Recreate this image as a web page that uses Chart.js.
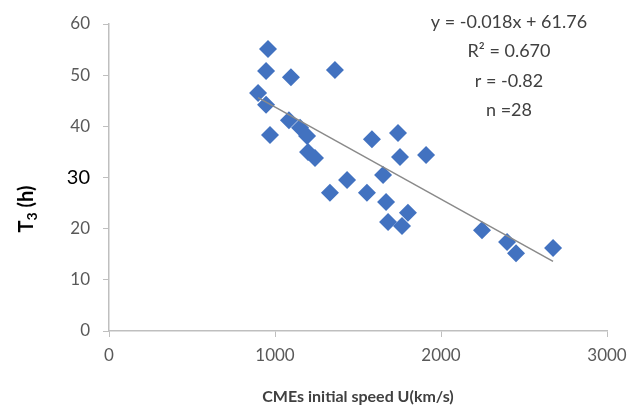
<!DOCTYPE html>
<html>
<head>
<meta charset="utf-8">
<title>CME speed vs T3</title>
<script src="https://cdn.jsdelivr.net/npm/chart.js@4.4.1/dist/chart.umd.min.js"></script>
<style>
  html, body { margin: 0; padding: 0; background: #ffffff; }
  #c { display: block; }
</style>
</head>
<body>
<canvas id="c" width="644" height="415"></canvas>
<script>
// CME initial speed (km/s) and travel time T3 (h) for each event
const speeds = [958, 946, 1096, 1361, 898, 946, 1084, 1151, 970, 1193,
                1199, 1241, 1331, 1434, 1584, 1741, 1753, 1910, 1651, 1554,
                1669, 1801, 1681, 1765, 2247, 2398, 2452, 2675];
const times  = [55.1, 50.8, 49.6, 51.0, 46.5, 44.2, 41.2, 39.7, 38.3, 38.1,
                35.0, 33.8, 27.0, 29.5, 37.5, 38.7, 34.0, 34.4, 30.5, 27.0,
                25.2, 23.1, 21.3, 20.5, 19.7, 17.4, 15.2, 16.2];

// Linear fit reported with the data
const fitSlope = -0.018;
const fitIntercept = 61.76;
const statsLines = ['y = -0.018x + 61.76', 'R\u00B2 = 0.670', 'r = -0.82', 'n =28'];

const xTicks = [0, 1000, 2000, 3000];
const yTicks = [0, 10, 20, 30, 40, 50, 60];
const xTitle = 'CMEs initial speed U(km/s)';
const yTitleMain = 'T';
const yTitleSub = '3';
const yTitleRest = ' (h)';

const points = speeds.map((s, i) => ({ x: s, y: times[i] }));
const xMinData = Math.min(...speeds);
const xMaxData = Math.max(...speeds);
const fitLine = [xMinData, xMaxData].map(x => ({ x: x, y: fitSlope * x + fitIntercept }));

const FONT = 'Lato, "Open Sans", "Liberation Sans", sans-serif';
const AXIS_GREY = '#bfbfbf';

// Regression statistics block and the rotated y-axis title
const textPlugin = {
  id: 'textBlocks',
  afterDraw(chart) {
    const ctx = chart.ctx;
    ctx.save();
    ctx.fillStyle = '#404040';
    ctx.font = '18px ' + FONT;
    ctx.textAlign = 'center';
    ctx.textBaseline = 'middle';
    statsLines.forEach((t, i) => ctx.fillText(t, 509, 22 + i * 29.5));

    // y-axis title: T with subscript 3, followed by (h)
    ctx.translate(27, 209);
    ctx.rotate(-Math.PI / 2);
    ctx.fillStyle = '#000000';
    ctx.textAlign = 'left';
    ctx.textBaseline = 'middle';
    const bigFont = 'bold 20px ' + FONT;
    const smallFont = 'bold 14px ' + FONT;
    ctx.font = bigFont;
    const wT = ctx.measureText(yTitleMain).width;
    const wR = ctx.measureText(yTitleRest).width;
    ctx.font = smallFont;
    const wS = ctx.measureText(yTitleSub).width;
    let x = -(wT + wS + wR) / 2;
    ctx.font = bigFont;
    ctx.fillText(yTitleMain, x, 0);
    x += wT;
    ctx.font = smallFont;
    ctx.fillText(yTitleSub, x, 5);
    x += wS;
    ctx.font = bigFont;
    ctx.fillText(yTitleRest, x, 0);
    ctx.restore();
  }
};

new Chart(document.getElementById('c'), {
  type: 'scatter',
  data: {
    datasets: [
      {
        label: 'Linear fit',
        type: 'line',
        data: fitLine,
        borderColor: '#8a8a8a',
        borderWidth: 1.5,
        pointRadius: 0,
        fill: false,
        order: 0
      },
      {
        label: 'T3',
        data: points,
        pointStyle: 'rectRot',
        pointRadius: 9,
        pointBackgroundColor: '#4272c0',
        pointBorderColor: '#4272c0',
        pointBorderWidth: 0,
        order: 1
      }
    ]
  },
  options: {
    responsive: false,
    animation: false,
    layout: { padding: { top: 24, right: 37, left: 0, bottom: 0 } },
    plugins: {
      legend: { display: false },
      tooltip: { enabled: false }
    },
    scales: {
      x: {
        type: 'linear',
        min: 0,
        max: 3000,
        afterBuildTicks(scale) { scale.ticks = xTicks.map(v => ({ value: v })); },
        afterFit(scale) { scale.height = 84; },
        ticks: {
          color: '#595959',
          font: { family: FONT, size: 17 },
          padding: 8,
          callback: (v) => String(v)
        },
        grid: {
          drawOnChartArea: false,
          drawTicks: true,
          tickLength: 6,
          color: AXIS_GREY
        },
        border: { color: AXIS_GREY, width: 1.5 },
        title: {
          display: true,
          text: xTitle,
          color: '#404040',
          font: { family: FONT, size: 16, weight: 'bold' },
          padding: { top: 0, bottom: 9 }
        }
      },
      y: {
        type: 'linear',
        min: 0,
        max: 60,
        afterBuildTicks(scale) { scale.ticks = yTicks.map(v => ({ value: v })); },
        afterFit(scale) { scale.width = 109; },
        ticks: {
          color: (c) => (c.tick && c.tick.value === 30 ? '#000000' : '#595959'),
          font: (c) => (c.tick && c.tick.value === 30
            ? { family: FONT, size: 20 }
            : { family: FONT, size: 17 }),
          padding: 13,
          callback: (v) => String(v)
        },
        grid: {
          drawOnChartArea: false,
          drawTicks: true,
          tickLength: 6,
          color: AXIS_GREY
        },
        border: { color: AXIS_GREY, width: 1.5 }
      }
    }
  },
  plugins: [textPlugin]
});
</script>
</body>
</html>
